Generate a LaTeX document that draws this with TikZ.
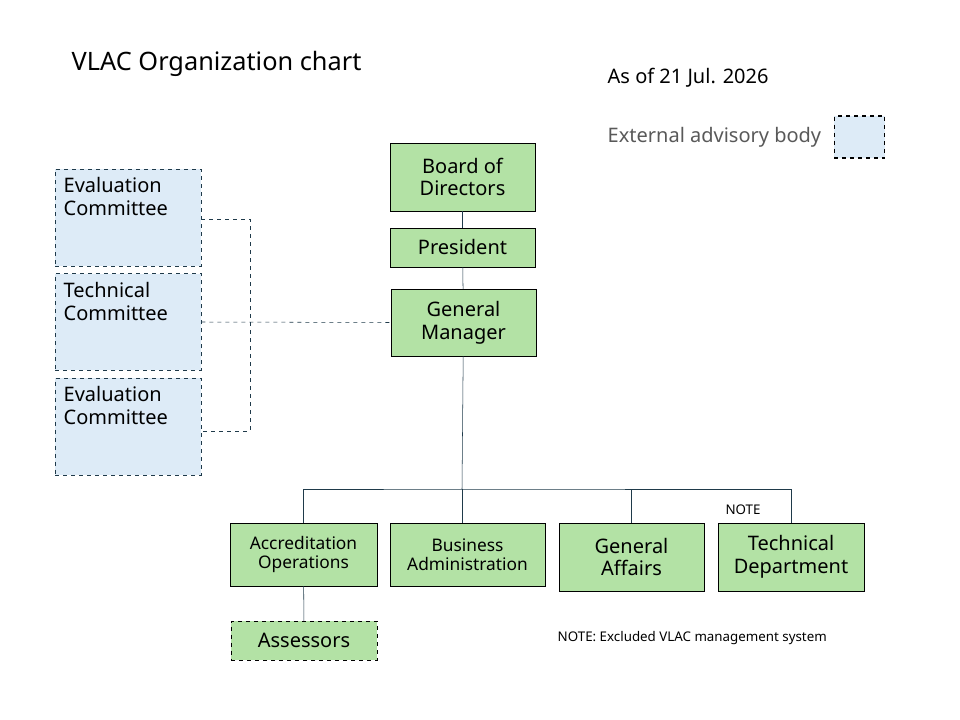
\documentclass[tikz,border=0pt]{standalone}
\usepackage{fontspec}
\setmainfont{Noto Sans}
\definecolor{boxgreen}{HTML}{B3E2A5}
\definecolor{boxblue}{HTML}{DDEBF7}
\definecolor{linec}{HTML}{1F3A4A}
\tikzset{
	unit/.style={draw=black,fill=boxgreen,align=center,inner sep=1pt,font=\fontsize{15}{17}\selectfont},
	small/.style={font=\fontsize{13}{14.5}\selectfont},
	advisory/.style={draw=linec,dashed,fill=boxblue,minimum width=109.5pt,minimum height=72.5pt},
	link/.style={draw=linec,thin},
	dlink/.style={draw=linec,dashed,thin}
}
\begin{document}
\begin{tikzpicture}[x=0.75pt,y=-0.75pt]
	\useasboundingbox (0,0) rectangle (960,720);
	% header
	\node[anchor=west,font=\bfseries\fontsize{19}{22}\selectfont] (title) at (67,64) {VLAC Organization chart};
	\node[anchor=west,font=\fontsize{15}{17}\selectfont] (date) at (603,78) {As of 21 Jul. 2026};
	\node[anchor=west,text=black!65,font=\fontsize{15}{17}\selectfont] (legtxt) at (603,137) {External advisory body};
	\node[draw=black,dashed,fill=boxblue,minimum width=38pt,minimum height=31.5pt,thick] (legbox) at (859.5,137) {};
	% top line
	\node[unit,minimum width=108.75pt,minimum height=51pt] (board) at (462.5,177) {Board of\\Directors};
	\node[unit,minimum width=108.75pt,minimum height=29pt] (pres) at (462.5,247.5) {President};
	\node[unit,minimum width=108.75pt,minimum height=50pt] (gm) at (463.5,322.5) {General\\Manager};
	% advisory bodies
	\node[advisory] (eval1) at (128,217.5) {};
	\node[advisory] (tech) at (128,322) {};
	\node[advisory] (eval2) at (128,426.5) {};
	\node[anchor=north west,align=left,font=\fontsize{15}{17}\selectfont] (eval1t) at (59,173) {Evaluation\\Committee};
	\node[anchor=north west,align=left,font=\fontsize{15}{17}\selectfont] (techt) at (59,278) {Technical\\Committee};
	\node[anchor=north west,align=left,font=\fontsize{15}{17}\selectfont] (eval2t) at (59,382) {Evaluation\\Committee};
	% departments
	\node[unit,small,minimum width=110pt,minimum height=47pt] (accr) at (303.5,554.5) {Accreditation\\Operations};
	\node[unit,small,minimum width=116pt,minimum height=47pt] (bus) at (467.5,554.5) {Business\\Administration};
	\node[unit,minimum width=108.75pt,minimum height=51pt] (ga) at (631.5,557) {General\\Affairs};
	\node[unit,minimum width=109.5pt,minimum height=51pt] (td) at (791,557) {Technical\\Department};
	\node[unit,dashed,minimum width=109.5pt,minimum height=29pt] (assr) at (304,640.5) {Assessors};
	\node[font=\bfseries\fontsize{10}{12}\selectfont] (note) at (743,510) {NOTE};
	\node[anchor=west,font=\fontsize{10}{12}\selectfont] (notetxt) at (553,638) {\textbf{NOTE}: Excluded VLAC management system};
	% connectors
	\coordinate (bus0) at (462,489);
	\draw[link] (board) -- (pres);
	\draw[link] (pres) -- (gm);
	\draw[link] (gm) -- (bus0);
	\draw[link] (accr.north) |- (bus0) -| (td.north);
	\draw[link] (bus0) -- (bus0 |- bus.north);
	\draw[link] (ga.north) -- (ga.north |- bus0);
	\draw[link] (accr) -- (assr);
	\draw[dlink] (eval1.east |- 0,219) -- (250,219) |- (eval2.east |- 0,431);
	\draw[dlink] (tech.east) -- (gm.west);
\end{tikzpicture}
\end{document}
